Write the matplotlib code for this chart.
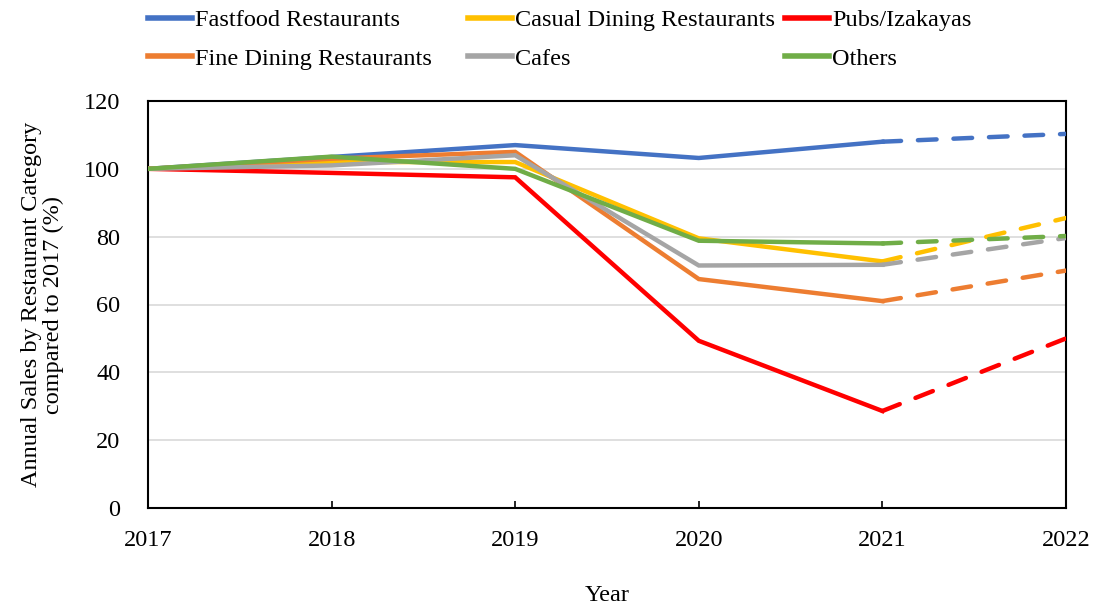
import matplotlib
matplotlib.use("Agg")
import matplotlib.pyplot as plt
from matplotlib.lines import Line2D

plt.rcParams['font.family'] = ['Liberation Serif', 'DejaVu Serif']

years = [2017, 2018, 2019, 2020, 2021, 2022]
fastfood = [100, 103.5, 107, 103.2, 108, 110.3]
casual = [100, 102, 102, 79.5, 72.7, 85.5]
pubs = [100, 98.8, 97.5, 49.3, 28.6, 50]
fine = [100, 103, 105, 67.5, 61, 70]
cafes = [100, 101, 104, 71.5, 71.7, 79.6]
others = [100, 103.6, 100, 78.8, 78, 80.2]

names = ["Fastfood Restaurants", "Casual Dining Restaurants", "Pubs/Izakayas",
         "Fine Dining Restaurants", "Cafes", "Others"]
series = [fastfood, casual, pubs, fine, cafes, others]
colors = ["#4472C4", "#FFC000", "#FF0000", "#ED7D31", "#A5A5A5", "#70AD47"]

W, H = 1094, 609
fig = plt.figure(figsize=(W / 100, H / 100), dpi=100)
ax = fig.add_axes([148 / W, 1 - 508 / H, 918 / W, 407 / H])

# solid up to 2021, dashed forecast 2021 -> 2022
for vals, c in zip(series, colors):
    ax.plot(years[:5], vals[:5], color=c, lw=3.2, solid_joinstyle='miter', zorder=3)
    ax.plot(years[4:], vals[4:], color=c, lw=3.2, linestyle=(0, (4.2, 3.8)),
            dash_capstyle='round', zorder=3)

ax.set_xlim(2017, 2022)
ax.set_ylim(0, 120)
ax.set_xticks(years)
ax.set_yticks(range(0, 121, 20))
ax.grid(axis='y', color='#D9D9D9', lw=1.2, zorder=0)
ax.set_axisbelow(True)
for s in ax.spines.values():
    s.set_color('black')
    s.set_linewidth(1.5)

ax.tick_params(axis='x', direction='in', length=5, width=1.2, pad=16, labelsize=17.5)
ax.tick_params(axis='y', length=0, pad=20, labelsize=17.5)

ax.set_xlabel("Year", fontsize=17.5, labelpad=24)
ax.set_ylabel("Annual Sales by Restaurant Category\ncompared to 2017 (%)",
              fontsize=17.5, labelpad=14, linespacing=1.1)

# legend laid out as three columns of equal width, like the original
col_x = [148, 468, 785]
for i, x0 in enumerate(col_x):
    idx = [i, i + 3]
    handles = [Line2D([], [], color=colors[j], lw=4) for j in idx]
    fig.legend(handles, [names[j] for j in idx], loc='upper left',
               bbox_to_anchor=(x0 / W, 1 - 9 / H), frameon=False, fontsize=17.5,
               handlelength=1.8, handletextpad=0.15, borderpad=0, borderaxespad=0,
               labelspacing=0.68)

fig.savefig("out.png", dpi=100)
